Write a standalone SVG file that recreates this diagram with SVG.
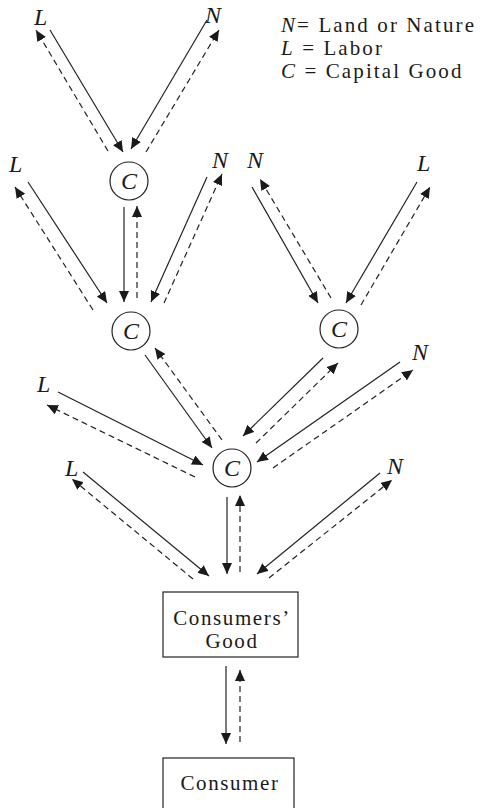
<svg xmlns="http://www.w3.org/2000/svg" width="483" height="808" viewBox="0 0 483 808">
<style>
.bg{fill:#fff}
.s{stroke:#222;stroke-width:1.2;fill:none;marker-end:url(#ah)}
.d{stroke:#222;stroke-width:1.2;fill:none;stroke-dasharray:6 4;marker-end:url(#ah)}
.node{fill:#fff;stroke:#222;stroke-width:1.2}
.t{font-family:"Liberation Serif","Times New Roman",serif;font-size:24px;fill:#1a1a1a}
.lg{font-size:21px;letter-spacing:2.1px}
.bx{font-size:21px;letter-spacing:1.6px}
.i{font-style:italic}
.c{text-anchor:middle}
</style>
<defs>
<marker id="ah" markerUnits="userSpaceOnUse" markerWidth="12" markerHeight="10" refX="11" refY="5" orient="auto">
<path d="M0,0 L11,5 L0,10 z" fill="#1a1a1a"/>
</marker>
</defs>
<rect class="bg" x="0" y="0" width="483" height="808"/>
<g id="connectors">
<line class="s" x1="50" y1="30" x2="123" y2="152"/>
<line class="d" x1="108" y1="151" x2="36" y2="30"/>
<line class="s" x1="207" y1="20" x2="131" y2="149"/>
<line class="d" x1="146" y1="152" x2="219" y2="30"/>
<line class="s" x1="124" y1="207" x2="124" y2="302"/>
<line class="d" x1="137" y1="298" x2="137" y2="206"/>
<line class="s" x1="28" y1="182" x2="107" y2="303"/>
<line class="d" x1="93" y1="310" x2="15" y2="187"/>
<line class="s" x1="207" y1="177" x2="151" y2="302"/>
<line class="d" x1="164" y1="303" x2="222" y2="174"/>
<line class="s" x1="252" y1="187" x2="318" y2="303"/>
<line class="d" x1="331" y1="298" x2="260" y2="179"/>
<line class="s" x1="417" y1="182" x2="346" y2="303"/>
<line class="d" x1="361" y1="305" x2="430" y2="187"/>
<line class="s" x1="145" y1="355" x2="212" y2="448"/>
<line class="d" x1="222" y1="440" x2="155" y2="348"/>
<line class="s" x1="58" y1="392" x2="203" y2="465"/>
<line class="d" x1="195" y1="477" x2="47" y2="405"/>
<line class="s" x1="323" y1="358" x2="243" y2="436"/>
<line class="d" x1="256" y1="443" x2="338" y2="363"/>
<line class="s" x1="400" y1="362" x2="257" y2="462"/>
<line class="d" x1="273" y1="468" x2="413" y2="370"/>
<line class="s" x1="227" y1="497" x2="227" y2="574"/>
<line class="d" x1="240" y1="572" x2="240" y2="495"/>
<line class="s" x1="83" y1="472" x2="209" y2="576"/>
<line class="d" x1="193" y1="579" x2="72" y2="479"/>
<line class="s" x1="380" y1="473" x2="257" y2="574"/>
<line class="d" x1="269" y1="578" x2="392" y2="480"/>
<line class="s" x1="226" y1="666" x2="226" y2="744"/>
<line class="d" x1="240" y1="742" x2="240" y2="670"/>
</g>
<g id="legend">
<text class="t lg" x="281" y="32"><tspan class="i">N</tspan>= Land or Nature</text>
<text class="t lg" x="281" y="55"><tspan class="i">L</tspan> = Labor</text>
<text class="t lg" x="281" y="78"><tspan class="i">C</tspan> = Capital Good</text>
</g>
<g id="labels">
<text class="t i" x="34" y="25">L</text>
<text class="t i" x="205" y="23">N</text>
<text class="t i" x="9" y="172">L</text>
<text class="t i" x="212" y="168">N</text>
<text class="t i" x="247" y="168">N</text>
<text class="t i" x="417" y="171">L</text>
<text class="t i" x="412" y="360">N</text>
<text class="t i" x="37" y="392">L</text>
<text class="t i" x="65" y="476">L</text>
<text class="t i" x="387" y="474">N</text>
</g>
<g id="c1"><circle class="node" cx="129" cy="181" r="19"/><text class="t i c" x="129" y="189">C</text></g>
<g id="c2"><circle class="node" cx="131" cy="331" r="19"/><text class="t i c" x="131" y="339">C</text></g>
<g id="c3"><circle class="node" cx="339" cy="329" r="19"/><text class="t i c" x="339" y="337">C</text></g>
<g id="c4"><circle class="node" cx="232" cy="468" r="19"/><text class="t i c" x="232" y="476">C</text></g>
<g id="consumers-good"><rect class="node" x="163" y="592" width="135" height="65"/><text class="t bx c" x="232" y="625">Consumers’</text><text class="t bx c" x="232" y="648">Good</text></g>
<g id="consumer"><rect class="node" x="163" y="758" width="131" height="70"/><text class="t bx c" x="230" y="790">Consumer</text></g>
</svg>
